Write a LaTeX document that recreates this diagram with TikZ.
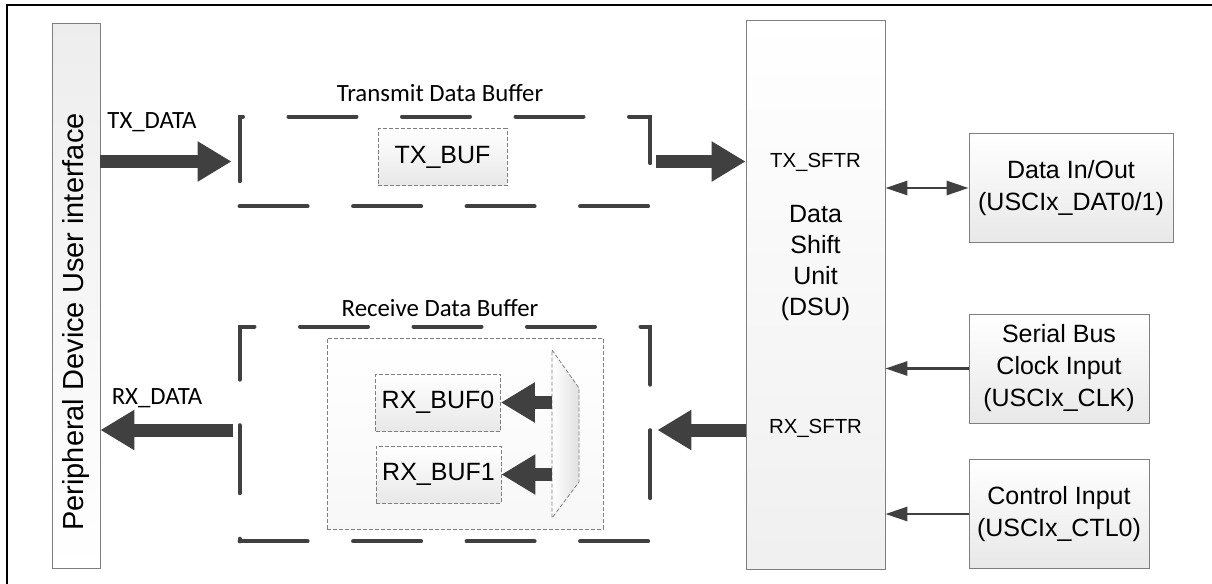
\documentclass[tikz,border=0pt]{standalone}
\usepackage{fontspec}
\setmainfont{Liberation Sans}
\newfontfamily\calibrifont{Carlito}
\usepackage{tikz}
\usetikzlibrary{arrows.meta,positioning,calc}

\definecolor{arrowgray}{HTML}{404040}
\definecolor{edgegray}{HTML}{7F7F7F}
\definecolor{shadegray}{HTML}{E8E8E8}

\begin{document}
\begin{tikzpicture}[
    x=0.5pt, y=-0.5pt,
    font=\fontsize{12.5}{16}\selectfont,
    >={Triangle[length=11pt 0, width=7pt 0]},
    iobox/.style={draw=edgegray, top color=white, bottom color=shadegray, minimum width=90pt, minimum height=54.5pt, inner sep=0pt, align=center},
    bufbox/.style={draw=edgegray, line width=0.4pt, dash pattern=on 2pt off 1pt, top color=white, bottom color=shadegray, minimum height=28.5pt, inner sep=0pt},
    bufframe/.style={draw=arrowgray, line width=2pt, line cap=round, dash pattern=on 34pt off 22.75pt},
    fatarrow/.style={draw=arrowgray, line width=6.5pt, -{Triangle[length=17pt 0, width=19pt 0]}},
    thinarrow/.style={->, draw=arrowgray, line width=1.4pt},
    caption/.style={font=\calibrifont\fontsize{12.4}{15}\selectfont},
    sftr/.style={font=\fontsize{10.2}{12}\selectfont},
]
\useasboundingbox (0,0) rectangle (1212,584);
\draw[line width=1pt] (7,584) -- (7,5) -- (1212,5);

\node[draw=edgegray, top color=black!7, bottom color=white, minimum width=24pt, minimum height=272.5pt, inner sep=0pt] (periph) at (76,295.5) {};
\node[rotate=90, font=\fontsize{14.5}{17}\selectfont] (periphlbl) at (76,322) {Peripheral Device User interface};

\node[draw=edgegray, top color=white, bottom color=black!6, minimum width=69.5pt, minimum height=274.5pt, inner sep=0pt] (dsu) at (815.5,294.5) {};
\node[align=center, font=\fontsize{12.5}{15.5}\selectfont] (dsulbl) at (815.5,263) {Data\\Shift\\Unit\\(DSU)};
\node[sftr] (txsftr) at (815.5,162) {TX\_SFTR};
\node[sftr] (rxsftr) at (815.5,428) {RX\_SFTR};

\node[iobox, minimum width=102pt] (dataio) at (1071,188) {Data In/Out\\(USCIx\_DAT0/1)};
\node[iobox] (sclk) at (1059,368.5) {Serial Bus\\Clock Input\\(USCIx\_CLK)};
\node[iobox] (ctrl) at (1059,514) {Control Input\\(USCIx\_CTL0)};

\node[minimum width=205pt, minimum height=44.5pt, inner sep=0pt] (txframe) at (445,161.5) {};
\node[minimum width=205pt, minimum height=107pt, inner sep=0pt] (rxframe) at (445,434) {};
\draw[bufframe] (txframe.south west) -- (txframe.south east) -- (txframe.north east) -- (txframe.north west) -- cycle;
\draw[bufframe] (rxframe.south west) -- (rxframe.south east) -- (rxframe.north east) -- (rxframe.north west) -- cycle;
\node[caption] (txcap) at (440,93) {Transmit Data Buffer};
\node[caption] (rxcap) at (440,308) {Receive Data Buffer};

\node[bufbox, minimum width=64.5pt] (txbuf) at (442.5,157) {TX\_BUF};
\node[draw=edgegray, line width=0.4pt, dash pattern=on 2pt off 1pt, top color=white, bottom color=black!3, minimum width=138pt, minimum height=95.5pt, inner sep=0pt] (rxgroup) at (465,433.5) {};
\node[bufbox, minimum width=62.5pt] (rxbuf0) at (438,402.5) {RX\_BUF0};
\node[bufbox, minimum width=62.5pt] (rxbuf1) at (438.5,474.5) {RX\_BUF1};

\coordinate (muxtl) at (552,350);
\coordinate (muxtr) at (579,388);
\coordinate (muxbr) at (579,482);
\coordinate (muxbl) at (552,518);
\path[draw=edgegray, line width=0.4pt, dash pattern=on 2pt off 1pt, left color=white, right color=black!12] (muxtl) -- (muxtr) -- (muxbr) -- (muxbl) -- cycle;

\coordinate (rxlevel) at (0,430);
\node[caption] (txdatalbl) at (152,122) {TX\_DATA};
\node[caption] (rxdatalbl) at (157,398) {RX\_DATA};

\draw[fatarrow, shorten >=4pt] (periph.east |- txframe.west) -- (txframe.west);
\draw[fatarrow, shorten <=3pt] (txframe.east) -- (dsu.west |- txframe.east);
\draw[fatarrow, shorten >=3.5pt] (dsu.west |- rxlevel) -- (rxframe.east |- rxlevel);
\draw[fatarrow, shorten <=3.5pt] (rxframe.west |- rxlevel) -- (periph.east |- rxlevel);
\draw[fatarrow] (muxtl |- rxbuf0.east) -- (rxbuf0.east);
\draw[fatarrow] (muxtl |- rxbuf1.east) -- (rxbuf1.east);

\draw[thinarrow, <->] (dsu.east |- dataio.west) -- (dataio.west);
\draw[thinarrow] (sclk.west) -- (dsu.east |- sclk.west);
\draw[thinarrow] (ctrl.west) -- (dsu.east |- ctrl.west);
\end{tikzpicture}
\end{document}
